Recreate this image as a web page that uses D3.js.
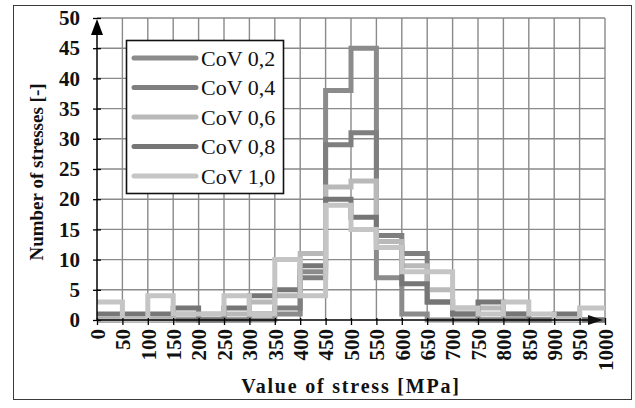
<!DOCTYPE html>
<html>
<head>
<meta charset="utf-8">
<script src="https://cdn.jsdelivr.net/npm/d3@7"></script>
<style>
  html, body { margin: 0; padding: 0; background: #fff; }
  svg { display: block; }
  text { font-family: "Liberation Serif", "Times New Roman", serif; }
</style>
</head>
<body>
<svg id="chart" width="635" height="408"></svg>
<script>
// Histogram of stress values, 50 MPa bins from 0 to 1000 MPa
const binStarts = d3.range(0, 1000, 50);
const xTicks = d3.range(0, 1001, 50);
const yTicks = d3.range(0, 51, 5);

const seriesNames = ["CoV 0,2", "CoV 0,4", "CoV 0,6", "CoV 0,8", "CoV 1,0"];
const cov02 = [0, 0, 0, 0, 0, 0, 0, 1, 8, 38, 45, 7, 1, 0, 0, 0, 0, 0, 0, 0];
const cov04 = [0, 0, 0, 0, 0, 0, 1, 2, 7, 29, 31, 14, 11, 3, 1, 0, 0, 0, 0, 0];
const cov06 = [0, 0, 0, 1, 1, 1, 3, 4, 11, 22, 23, 13, 9, 5, 2, 2, 1, 0, 0, 0];
const cov08 = [1, 1, 1, 2, 0, 2, 4, 5, 9, 20, 17, 12, 6, 3, 1, 3, 1, 0, 1, 0];
const cov10 = [3, 0, 4, 1, 1, 4, 1, 10, 4, 19, 15, 12, 8, 8, 2, 1, 3, 1, 0, 2];
const seriesValues = [cov02, cov04, cov06, cov08, cov10];
const seriesColors = ["#8b8b8b", "#7f7f7f", "#b9b9b9", "#767676", "#c5c5c5"];

const svg = d3.select("#chart");

// outer frame
svg.append("rect")
  .attr("x", 13.5).attr("y", 5.5)
  .attr("width", 618).attr("height", 394)
  .attr("fill", "none").attr("stroke", "#3a3a3a").attr("stroke-width", 1);

const x = d3.scaleLinear().domain([0, 1000]).range([97, 605]);
const y = d3.scaleLinear().domain([0, 50]).range([320, 18]);

// grid
const grid = svg.append("g").attr("stroke", "#8a8a8a").attr("stroke-width", 1.4);
grid.selectAll("line.v").data(xTicks.slice(1)).join("line")
  .attr("x1", d => x(d)).attr("x2", d => x(d))
  .attr("y1", y(0)).attr("y2", y(50));
grid.selectAll("line.h").data(yTicks.slice(1)).join("line")
  .attr("x1", x(0)).attr("x2", x(1000))
  .attr("y1", d => y(d)).attr("y2", d => y(d));

// step outlines for each series
const step = d3.line()
  .x(d => x(d[0]))
  .y(d => y(d[1]))
  .curve(d3.curveStepAfter);

seriesValues.forEach((vals, i) => {
  const pts = binStarts.map((b, j) => [b, vals[j]]);
  pts.push([1000, vals[vals.length - 1]]);
  svg.append("path")
    .attr("d", step(pts))
    .attr("fill", "none")
    .attr("stroke", seriesColors[i])
    .attr("stroke-width", 5)
    .attr("stroke-linejoin", "miter");
});

// axes
const yAxis = svg.append("g")
  .attr("transform", `translate(${x(0)},0)`)
  .call(d3.axisLeft(y).tickValues(yTicks).tickSize(4).tickPadding(13));
yAxis.select(".domain").remove();
yAxis.selectAll(".tick line").attr("x1", -4).attr("x2", 4).attr("stroke", "#000").attr("stroke-width", 1.3);
yAxis.selectAll(".tick text")
  .attr("font-size", 21).attr("font-weight", "bold").attr("fill", "#111");

const xAxis = svg.append("g")
  .attr("transform", `translate(0,${y(0)})`)
  .call(d3.axisBottom(x).tickValues(xTicks).tickFormat(d3.format("d")).tickSize(5).tickPadding(6));
xAxis.select(".domain").remove();
xAxis.selectAll(".tick line").attr("y1", -2).attr("y2", 5).attr("stroke", "#000").attr("stroke-width", 1.3);
xAxis.selectAll(".tick text")
  .attr("font-size", 21).attr("font-weight", "bold").attr("fill", "#111")
  .attr("transform", "rotate(-90)")
  .attr("text-anchor", "end")
  .attr("dy", "0.35em")
  .attr("x", -9).attr("y", 0);

// axis lines with arrow heads
svg.append("line")
  .attr("x1", x(0)).attr("x2", x(0)).attr("y1", y(0)).attr("y2", y(50) + 4)
  .attr("stroke", "#000").attr("stroke-width", 1.5);
svg.append("path")
  .attr("d", `M${x(0)},${y(50) + 1} L${x(0) - 6},${y(50) + 17} L${x(0) + 6},${y(50) + 17} Z`)
  .attr("fill", "#000");
svg.append("line")
  .attr("x1", x(0)).attr("x2", x(1000) - 6).attr("y1", y(0)).attr("y2", y(0))
  .attr("stroke", "#000").attr("stroke-width", 1.5);
svg.append("path")
  .attr("d", `M${x(1000) - 2},${y(0)} L${x(1000) - 17},${y(0) - 5} L${x(1000) - 17},${y(0) + 5} Z`)
  .attr("fill", "#111");

// axis titles
svg.append("text")
  .attr("transform", `translate(43,${y(25) + 3}) rotate(-90)`)
  .attr("text-anchor", "middle")
  .attr("font-size", 19).attr("font-weight", "bold")
  .attr("fill", "#111")
  .text("Number of stresses [-]");
svg.append("text")
  .attr("x", 351).attr("y", 393)
  .attr("text-anchor", "middle")
  .attr("font-size", 20).attr("font-weight", "bold")
  .attr("letter-spacing", 1.8)
  .attr("fill", "#111")
  .text("Value of stress [MPa]");

// legend
const legend = svg.append("g");
legend.append("rect")
  .attr("x", 126.5).attr("y", 40.5).attr("width", 157).attr("height", 153)
  .attr("fill", "#fff").attr("stroke", "#111").attr("stroke-width", 1.6);
seriesNames.forEach((name, i) => {
  const cy = 58 + i * 29.5;
  legend.append("line")
    .attr("x1", 134).attr("x2", 196).attr("y1", cy).attr("y2", cy)
    .attr("stroke", seriesColors[i]).attr("stroke-width", 5)
    .attr("stroke-linecap", "round");
  legend.append("text")
    .attr("x", 201).attr("y", cy).attr("dy", "0.35em")
    .attr("font-size", 22).attr("fill", "#111")
    .text(name);
});
</script>
</body>
</html>
